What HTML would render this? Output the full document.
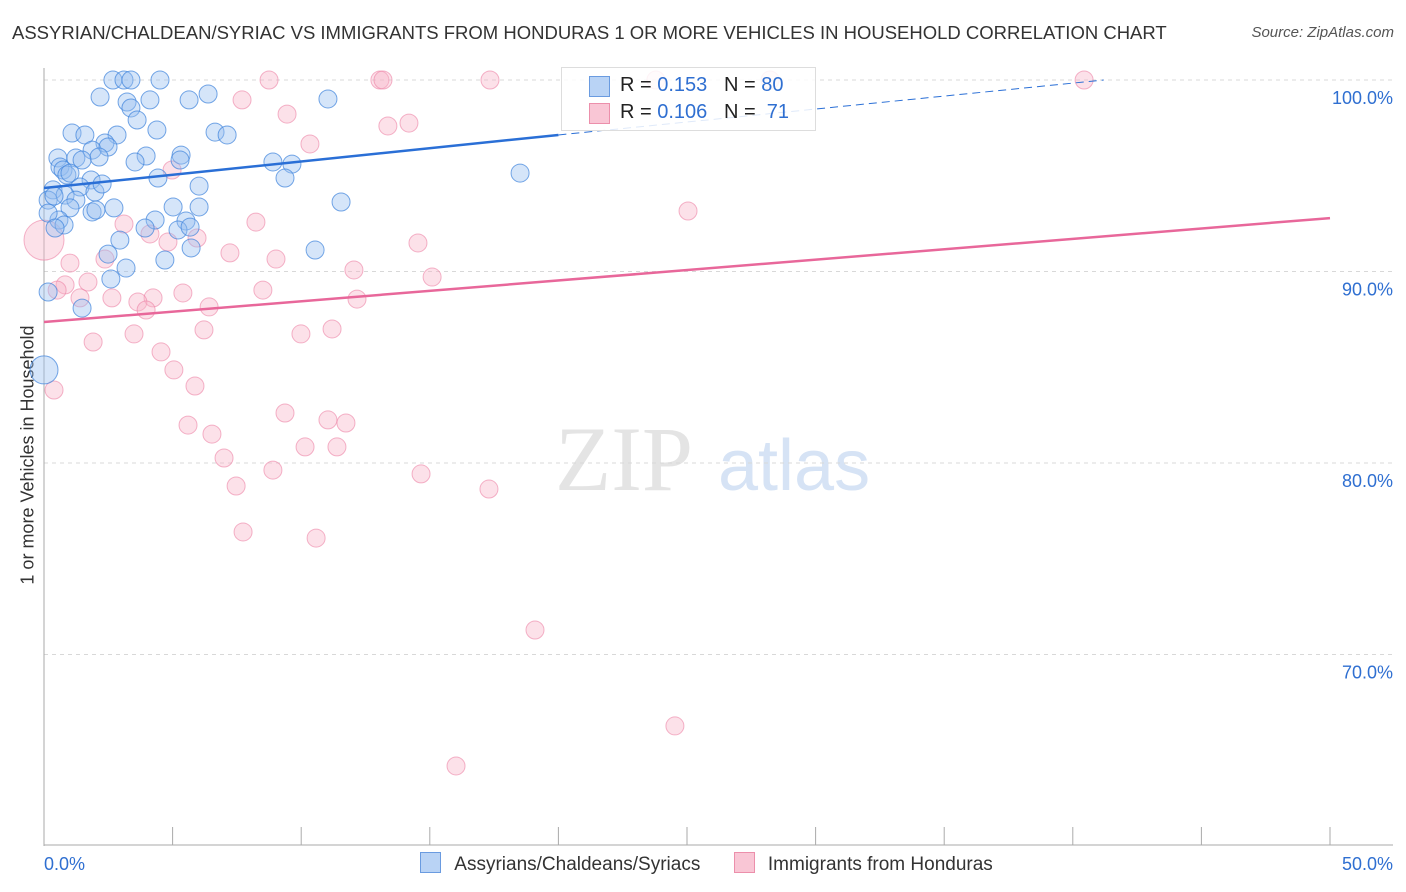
<!DOCTYPE html>
<html><head><meta charset="utf-8"><style>
body{margin:0;background:#fff;font-family:"Liberation Sans",sans-serif;}
#wrap{position:relative;width:1406px;height:892px;overflow:hidden;}
.t{position:absolute;white-space:nowrap;}
</style></head><body>
<div id="wrap">
<div class="t" style="left:12px;top:22px;font-size:18.5px;color:#333;">ASSYRIAN/CHALDEAN/SYRIAC VS IMMIGRANTS FROM HONDURAS 1 OR MORE VEHICLES IN HOUSEHOLD CORRELATION CHART</div>
<div class="t" style="right:12px;top:24px;font-size:15px;color:#555;font-style:italic;">Source: ZipAtlas.com</div>
<div class="t" style="left:28px;top:455px;font-size:18px;color:#333;transform:translate(-50%,-50%) rotate(-90deg);">1 or more Vehicles in Household</div>
<svg id="plot" width="1406" height="892" style="position:absolute;left:0;top:0"></svg>
<div style="position:absolute;left:561px;top:67px;width:253px;height:62px;border:1px solid #ddd;background:rgba(255,255,255,0.85);font-size:20px;">
 <div style="position:absolute;left:27px;top:8px;width:19px;height:19px;background:#b9d3f5;border:1px solid #6a9be0"></div>
 <div class="t" style="left:58px;top:6px;color:#222">R = <span style="color:#2f6fd1">0.153</span>&nbsp;&nbsp;&nbsp;N = <span style="color:#2f6fd1">80</span></div>
 <div style="position:absolute;left:27px;top:35px;width:19px;height:19px;background:#f9c6d5;border:1px solid #ec8fab"></div>
 <div class="t" style="left:58px;top:33px;color:#222">R = <span style="color:#2f6fd1">0.106</span>&nbsp;&nbsp;&nbsp;N = &nbsp;<span style="color:#2f6fd1">71</span></div>
</div>
<div style="position:absolute;top:852px;left:420px;font-size:19px;color:#333;">
 <span style="display:inline-block;width:19px;height:19px;background:#b9d3f5;border:1px solid #6a9be0;vertical-align:-3px"></span>
 <span style="margin-left:8px">Assyrians/Chaldeans/Syriacs</span>
 <span style="display:inline-block;width:19px;height:19px;background:#f9c6d5;border:1px solid #ec8fab;vertical-align:-3px;margin-left:28px"></span>
 <span style="margin-left:8px">Immigrants from Honduras</span>
</div>
</div>
<script>
const yTicks=[100,90,80,70];
const yTickLabels=["100.0%","90.0%","80.0%","70.0%"];
const xTickLabels=["0.0%","50.0%"];
const bluePx=[[113,80],[124,80],[131,80],[160,80],[100,97],[127,102],[150,100],[189,100],[208,94],[328,99],[131,108],[137,120],[157,130],[72,133],[85,135],[117,135],[215,132],[227,135],[105,143],[92,150],[58,158],[76,158],[108,147],[146,156],[181,155],[180,160],[99,157],[82,160],[135,162],[273,162],[292,164],[60,167],[63,170],[67,175],[70,173],[91,180],[158,178],[285,178],[520,173],[53,190],[80,187],[95,192],[102,184],[199,186],[65,195],[48,200],[54,196],[76,200],[70,208],[92,212],[96,210],[114,208],[173,207],[199,207],[341,202],[59,220],[64,225],[48,213],[55,228],[155,220],[186,221],[178,230],[190,227],[145,228],[120,240],[191,248],[108,254],[165,260],[315,250],[126,268],[111,279],[48,292],[82,308],[44,370]];
const pinkPx=[[490,80],[380,80],[383,80],[269,80],[656,80],[770,80],[1084,80],[242,100],[287,114],[310,144],[388,126],[409,123],[172,170],[688,211],[256,222],[124,224],[150,234],[168,242],[197,238],[418,243],[230,253],[276,259],[105,259],[70,263],[354,270],[432,277],[65,285],[88,282],[57,290],[183,293],[263,290],[80,298],[112,298],[153,298],[138,302],[209,307],[357,299],[146,310],[204,330],[301,334],[332,329],[93,342],[134,334],[161,352],[174,370],[195,386],[54,390],[285,413],[328,420],[346,423],[188,425],[212,434],[305,447],[337,447],[224,458],[273,470],[421,474],[236,486],[489,489],[243,532],[316,538],[535,630],[675,726],[456,766],[44,240]];
// data values (x in %, y in %) derived from reading picture
const blueX=bluePx.map(p=>+((p[0]-44)/25.72).toFixed(2));
const blueY=bluePx.map(p=>+(100-(p[1]-80)/19.15).toFixed(2));
const pinkX=pinkPx.map(p=>+((p[0]-44)/25.72).toFixed(2));
const pinkY=pinkPx.map(p=>+(100-(p[1]-80)/19.15).toFixed(2));
const blueTrend=[[0,94.36],[20,97.13],[41.2,100]];
const pinkTrend=[[0,87.36],[50,92.79]];

const X=v=>44+v*25.72, Y=v=>80+(100-v)*19.15;
const svg=document.getElementById('plot');
const NS='http://www.w3.org/2000/svg';
function mk(tag,attrs){const e=document.createElementNS(NS,tag);for(const k in attrs)e.setAttribute(k,attrs[k]);svg.appendChild(e);return e;}
// watermark
let w=mk('text',{x:555,y:490,'font-size':92,fill:'#e4e4e4','font-family':'Liberation Serif, serif'});w.textContent='ZIP';


w=mk('text',{x:718,y:490,'font-size':72,fill:'#d6e3f5','font-family':'Liberation Sans, sans-serif'});w.textContent='atlas';


yTicks.forEach((t,i)=>{
 const l=mk('line',{x1:44,x2:1393,y1:Y(t),y2:Y(t),stroke:'#d8d8d8','stroke-dasharray':'4,4'});
 
 
 const tx=mk('text',{x:1393,y:Y(t)+24,'text-anchor':'end','font-size':18,fill:'#2f6fd1','font-family':'Liberation Sans, sans-serif'});
 tx.textContent=yTickLabels[i];
 
 
});
let ax=mk('line',{x1:44,x2:44,y1:68,y2:846,stroke:'#aaa'});


ax=mk('line',{x1:44,x2:1393,y1:845,y2:845,stroke:'#aaa'});


for(let i=0;i<=10;i++){const tk=mk('line',{x1:X(i*5),x2:X(i*5),y1:827,y2:845,stroke:'#aaa'});
 
 }
let xl=mk('text',{x:44,y:870,'font-size':18,fill:'#2f6fd1','font-family':'Liberation Sans, sans-serif'});xl.textContent=xTickLabels[0];


xl=mk('text',{x:1393,y:870,'text-anchor':'end','font-size':18,fill:'#2f6fd1','font-family':'Liberation Sans, sans-serif'});xl.textContent=xTickLabels[1];


pinkX.forEach((x,i)=>{const c=mk('circle',{cx:X(x),cy:Y(pinkY[i]),r:i==pinkX.length-1?20:9,fill:'rgba(248,180,200,0.4)',stroke:'rgba(236,130,165,0.6)','stroke-width':1});
 
 });
blueX.forEach((x,i)=>{const c=mk('circle',{cx:X(x),cy:Y(blueY[i]),r:i==blueX.length-1?14:9,fill:'rgba(150,190,240,0.4)',stroke:'rgba(60,130,220,0.7)','stroke-width':1});
 
 });
let tl=mk('line',{x1:X(blueTrend[0][0]),y1:Y(blueTrend[0][1]),x2:X(blueTrend[1][0]),y2:Y(blueTrend[1][1]),stroke:'#2a6fd6','stroke-width':2.5});


tl=mk('line',{x1:X(blueTrend[1][0]),y1:Y(blueTrend[1][1]),x2:X(blueTrend[2][0]),y2:Y(blueTrend[2][1]),stroke:'#2a6fd6','stroke-width':1,'stroke-dasharray':'8,5'});


tl=mk('line',{x1:X(pinkTrend[0][0]),y1:Y(pinkTrend[0][1]),x2:X(pinkTrend[1][0]),y2:Y(pinkTrend[1][1]),stroke:'#e8679a','stroke-width':2.5});


</script>
</body></html>
